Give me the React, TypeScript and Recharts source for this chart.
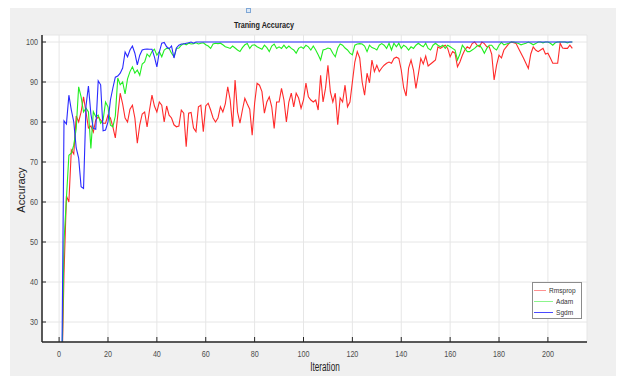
import { LineChart, Line, XAxis, YAxis, CartesianGrid, Legend } from 'recharts';

// iterations 1..210, accuracy in %
const RMSPROP = [
  12, 42, 61.5, 60, 73, 72, 81.5, 80, 82.5, 86.3,
  82.5, 78.5, 79, 77.5, 80.5, 81.3, 80.5, 79.7, 79.7, 81.7,
  81, 78.8, 76, 81.7, 87.2, 84.5, 81, 80, 83.2, 84.2,
  81, 74.7, 79.3, 82, 82.5, 78.8, 83, 86.7, 84, 82.5,
  85, 84.2, 80, 84, 81.7, 81, 79.3, 78.8, 79, 83,
  82.2, 73.8, 82.2, 82.4, 78.5, 77.6, 83.8, 84.2, 77.6, 84,
  84.7, 83, 81, 80, 81, 83.8, 82.5, 84.5, 88.8, 85.5,
  78.8, 90.5, 82.5, 79.7, 83, 85.9, 84.5, 83.2, 76.7, 84.7,
  89.7, 89.2, 87.6, 82.2, 85, 86.3, 83.8, 78.4, 85, 85,
  88.4, 85.5, 80, 85, 87.2, 83.8, 87.2, 86, 83.4, 85.5,
  89.7, 86.3, 85.5, 85, 85.5, 83, 91.7, 85, 88.4, 94.2,
  87.5, 85, 87.2, 79.3, 86, 85, 89.2, 83.8, 85, 90,
  95, 97.6, 96, 90, 86.7, 92.2, 89.8, 95.5, 92.6, 94.2,
  92.6, 93.5, 94.2, 94.7, 95, 94.7, 95.9, 96.2, 95.9, 93,
  88.5, 86.5, 93.5, 95.5, 93, 88.4, 92, 95.9, 94.5, 96.5,
  94, 94.5, 95, 95.5, 98.8, 98.4, 98.8, 99.2, 98.4, 96.3,
  97.6, 97.2, 93.8, 95, 96.7, 98, 98.8, 98.4, 99.6, 100,
  99.2, 98.8, 100, 99.6, 98.8, 98.8, 97, 90.5, 94.2, 96.7,
  96, 98, 98.8, 99.6, 100, 99.8, 99.6, 98.4, 97.2, 96,
  94.7, 93.4, 97, 98.8, 98, 97.6, 98, 98.4, 97, 97.2,
  96, 94.7, 94.7, 94.7, 99.7, 98.5, 98.4, 98.4, 99.2, 98.4,
];

const ADAM = [
  12, 50, 61, 71.7, 72.2, 74.2, 78.4, 88.8, 86.3, 82.5,
  83.5, 82.5, 73.4, 82.6, 81.3, 81.7, 79.7, 80.5, 85, 83.8,
  79.2, 78.8, 81.5, 91, 89.3, 90, 87, 90.8, 92.6, 93.8,
  92.2, 93, 91.7, 94.5, 95, 97, 96.3, 97.6, 98.2, 96.7,
  97.6, 96.3, 98, 98.4, 98.4, 97.2, 96.3, 98.4, 98.5, 99.2,
  99.6, 99.3, 99.7, 99.5, 99.6, 99.8, 99.5, 99.7, 99.8, 99.3,
  99, 98.4, 99.5, 99.7, 99.6, 99.7, 99.3, 98.8, 98.6, 98.4,
  99, 98.5, 98, 97.6, 98.6, 99.3, 99.6, 98.4, 99.2, 99.3,
  98.8, 98.5, 98.2, 99.2, 98.6, 97.6, 99, 99.5, 98.4, 98.8,
  98.4, 99.2, 98.4, 99, 98.4, 98, 97.2, 98.4, 98.8, 98.4,
  99.2, 98.8, 98, 99, 98, 96.8, 95.5, 98, 98.2, 98.5,
  98.3, 97.2, 96.3, 98.5, 99.5, 99.2, 98.5, 98, 97.2, 96.8,
  99.2, 99.5, 99.6, 99.5, 99, 97.6, 99.2, 98.6, 98.4, 98,
  99.2, 99.6, 99.2, 98.4, 99.7, 98, 99.7, 98.8, 99.7, 98.4,
  99.2, 98.8, 98, 98.8, 98.4, 99.2, 99.7, 99.2, 98.8, 99.7,
  98.4, 98, 99.2, 99.7, 99.2, 98.8, 99.2, 98.4, 99.2, 98.8,
  98.4, 98, 95.5, 97, 99.2, 98.4, 97.6, 97.6, 98, 98.4,
  99, 99.2, 98.4, 97.2, 98.4, 99.2, 99.2, 98.4, 98, 99.2,
  99.9, 99.3, 99.5, 99.7, 100, 100, 99.8, 99.6, 99.3, 99.5,
  99.7, 100, 99.7, 99.3, 99.6, 100, 100, 99.8, 100, 100,
  99.7, 99.2, 99.8, 100, 100, 100, 100, 99.8, 100, 100,
];

const SGDM_START = [
  10, 80.3, 79.5, 86.7, 83, 80, 73.5, 71, 63.8, 63.4,
  84, 89, 82, 78.4, 78.2, 90.3, 89.3, 77.8, 78, 80,
  85.5, 88.5, 91.2, 91.5, 92.2, 93.5, 97.5, 96.3, 98, 99,
  97.2, 94.3, 96.7, 98, 98.2, 98.25, 98.2, 98.2, 96.3, 93.8,
  97.5, 99.7, 99.9, 98.8, 98.3, 99, 96, 98.5, 99.2, 99.5,
  99.5, 99.7, 99.8, 100, 99.7,
];
// from iteration 56 on, Sgdm stays at 100
const SGDM = [...SGDM_START, ...Array(210 - SGDM_START.length).fill(100)];

const X_TICKS = [0, 20, 40, 60, 80, 100, 120, 140, 160, 180, 200];
const Y_TICKS = [30, 40, 50, 60, 70, 80, 90, 100];

const SERIES = [
  { key: 'rms', name: 'Rmsprop', color: '#ff2a2a', legend: '#ff9090' },
  { key: 'adam', name: 'Adam', color: '#22ee22', legend: '#8cf58c' },
  { key: 'sgdm', name: 'Sgdm', color: '#2a2aff', legend: '#4a4aff' },
];

const rows = RMSPROP.map((v, i) => ({ it: i + 1, rms: v, adam: ADAM[i], sgdm: SGDM[i] }));

const FONT = "'Liberation Sans', Arial, sans-serif";
const AXIS = '#262626';

const XTick = (props: any) => {
  const { x, y, payload } = props;
  return (
    <g>
      <line x1={x} x2={x} y1={y} y2={y - 5} stroke={AXIS} strokeWidth={1} />
      <text
        transform={`translate(${x} ${y + 15}) scale(0.8 1)`}
        textAnchor="middle"
        fontSize={9}
        fontFamily={FONT}
        fill="#4d4d4d"
      >
        {payload.value}
      </text>
    </g>
  );
};

const YTick = (props: any) => {
  const { x, y, payload } = props;
  return (
    <g>
      <line x1={x} x2={x + 4} y1={y} y2={y} stroke={AXIS} strokeWidth={1} />
      <text
        transform={`translate(${x - 4} ${y + 3}) scale(0.8 1)`}
        textAnchor="end"
        fontSize={9}
        fontFamily={FONT}
        fill="#4d4d4d"
      >
        {payload.value}
      </text>
    </g>
  );
};

// legend drawn in plot order (Recharts would sort it by name)
const LegendBox = () => (
  <div
    style={{
      width: 50,
      height: 37,
      boxSizing: 'border-box',
      border: '1px solid #8c8c8c',
      background: '#fff',
      paddingTop: 2,
    }}
  >
    {SERIES.map((s) => (
      <div key={s.key} style={{ display: 'flex', alignItems: 'center', height: 11 }}>
        <div style={{ width: 19, height: 1.5, background: s.legend, marginLeft: 1 }} />
        <span
          style={{
            fontFamily: FONT,
            fontSize: 8,
            color: '#333',
            marginLeft: 3,
            display: 'inline-block',
            transform: 'scaleX(0.82)',
            transformOrigin: 'left center',
            whiteSpace: 'nowrap',
          }}
        >
          {s.name}
        </span>
      </div>
    ))}
  </div>
);

export default function App() {
  return (
    <div style={{ position: 'absolute', left: 0, top: 0, width: 619, height: 376, background: '#fff', overflow: 'hidden' }}>
      <div style={{ position: 'absolute', left: 10, top: 8, width: 606, height: 368, background: '#f0f0f0' }} />
      <div
        style={{
          position: 'absolute',
          left: 246,
          top: 8,
          width: 3,
          height: 3,
          border: '1px solid #7fa7d6',
          background: '#dbe8f6',
        }}
      />
      <div style={{ position: 'absolute', left: 42, top: 35, width: 545, height: 307, background: '#fff' }} />
      <div style={{ position: 'absolute', left: 0, top: 0 }}>
        <LineChart width={619} height={376} data={rows} margin={{ top: 35, right: 32, bottom: 0, left: 0 }}>
          <CartesianGrid stroke="#e6e6e6" strokeWidth={1} />
          <XAxis
            dataKey="it"
            type="number"
            domain={[-7, 216]}
            ticks={X_TICKS}
            allowDataOverflow
            height={34}
            tickSize={0}
            tickMargin={0}
            tickLine={false}
            axisLine={{ stroke: AXIS, strokeWidth: 1.5 }}
            tick={<XTick />}
            interval={0}
          />
          <YAxis
            type="number"
            domain={[25, 101.75]}
            ticks={Y_TICKS}
            allowDataOverflow
            width={42}
            tickSize={0}
            tickMargin={0}
            tickLine={false}
            axisLine={{ stroke: AXIS, strokeWidth: 1.5 }}
            tick={<YTick />}
            interval={0}
          />
          <Legend
            layout="horizontal"
            verticalAlign="middle"
            align="center"
            wrapperStyle={{ left: 532, top: 282, width: 50 }}
            content={<LegendBox />}
          />
          {SERIES.map((s) => (
            <Line
              key={s.key}
              type="linear"
              dataKey={s.key}
              name={s.name}
              stroke={s.color}
              strokeWidth={1.1}
              dot={false}
              activeDot={false}
              isAnimationActive={false}
            />
          ))}
        </LineChart>
      </div>
      <div
        style={{
          position: 'absolute',
          left: 214,
          top: 20,
          width: 100,
          textAlign: 'center',
          fontFamily: FONT,
          fontWeight: 'bold',
          fontSize: 9,
          color: '#222',
          transform: 'scaleX(0.8)',
          whiteSpace: 'nowrap',
        }}
      >
        Traning Accuracy
      </div>
      <div
        style={{
          position: 'absolute',
          left: 275,
          top: 360,
          width: 100,
          textAlign: 'center',
          fontFamily: FONT,
          fontSize: 12,
          color: '#222',
          transform: 'scaleX(0.68)',
          whiteSpace: 'nowrap',
        }}
      >
        Iteration
      </div>
      <div
        style={{
          position: 'absolute',
          left: 21,
          top: 190,
          fontFamily: FONT,
          fontSize: 11,
          color: '#222',
          transform: 'translate(-50%, -50%) rotate(-90deg)',
          whiteSpace: 'nowrap',
        }}
      >
        Accuracy
      </div>
    </div>
  );
}
